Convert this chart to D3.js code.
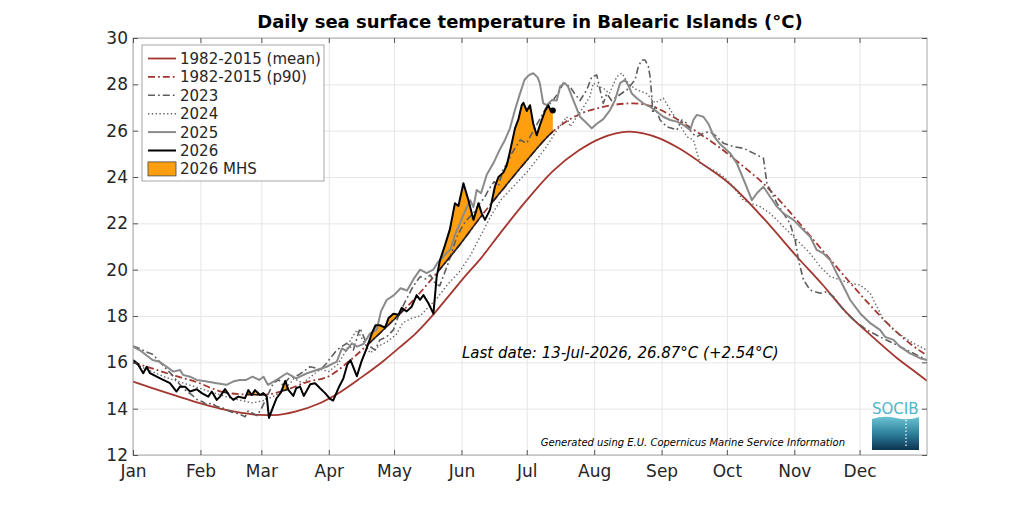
<!DOCTYPE html>
<html lang="en">
<head>
<meta charset="utf-8">
<title>Daily sea surface temperature in Balearic Islands</title>
<script src="https://cdn.jsdelivr.net/npm/d3@7"></script>
<style>
  body { margin: 0; background: #fff; }
  svg text { font-family: "DejaVu Sans", sans-serif; fill: #262626; }
</style>
</head>
<body>
<div id="chart"></div>
<script>

// month labels and the day of year where each month starts
var months = ["Jan","Feb","Mar","Apr","May","Jun","Jul","Aug","Sep","Oct","Nov","Dec"];
var monthDays = [0,31,59,90,120,151,181,212,243,273,304,334];
var yTicks = [12,14,16,18,20,22,24,26,28,30];

// [day of year, temperature]
var mean8215 = [[0,15.17],[10,14.85],[20,14.55],[31,14.23],[40,14.0],[50,13.82],[58,13.73],[65,13.72],[75,13.88],[85,14.2],[95,14.7],[105,15.35],[115,16.05],[123,16.68],[130,17.25],[137,17.95],[145,18.85],[153,19.75],[160,20.5],[169,21.6],[181,23.0],[193,24.25],[205,25.15],[215,25.67],[228,25.96],[242,25.67],[251,25.24],[262,24.55],[274,23.73],[290,22.2],[305,20.58],[317,19.35],[328,18.15],[340,17.1],[351,16.2],[358,15.7],[365,15.2]];

var p90_8215 = [[0,16.0],[10,15.7],[20,15.4],[30,15.12],[40,14.75],[50,14.62],[60,14.6],[70,14.8],[80,15.15],[90,15.4],[100,16.1],[110,16.95],[120,17.85],[130,18.8],[140,19.9],[150,21.05],[160,22.3],[169,23.35],[180,24.6],[193,25.96],[205,26.7],[215,27.0],[230,27.18],[240,27.0],[250,26.5],[260,25.9],[270,25.25],[280,24.5],[290,23.7],[300,22.7],[310,21.6],[320,20.5],[330,19.4],[340,18.35],[350,17.4],[358,16.75],[365,16.3]];

var sst2023 = [[0,16.7],[3,16.6],[6,16.45],[9,16.35],[12,16.05],[15,15.75],[18,15.45],[21,15.1],[24.7,14.74],[27,14.6],[29.3,14.4],[32,14.3],[34,14.16],[36,14.25],[38.5,14.09],[41,14.05],[43,13.94],[45.5,13.85],[47.7,13.8],[50,13.72],[51.5,13.65],[53,13.9],[55,13.8],[57,13.7],[59,14.0],[61,14.4],[63,14.8],[64.5,15.1],[67,15.25],[69,15.0],[71.5,15.3],[73.7,15.38],[76,15.45],[78.3,15.6],[81.4,15.81],[84,15.75],[86,15.67],[89,15.96],[90.6,16.17],[93.7,16.53],[96,16.68],[98.2,16.82],[101.3,16.53],[103.6,17.25],[104.4,17.47],[106.5,17.0],[109,16.68],[111.3,16.53],[113.5,16.97],[116.6,17.1],[119.7,17.4],[122,18.0],[125,18.6],[128.9,19.3],[132,19.7],[134.5,19.6],[136.6,19.77],[139,19.4],[141,19.3],[143,19.8],[145,20.3],[147,20.9],[148.8,21.4],[151,21.8],[153,22.1],[155,22.3],[157,22.5],[159.5,22.87],[161.5,23.1],[163.4,23.44],[166,23.8],[168,23.6],[170,24.3],[172,24.6],[174,25.0],[176,25.3],[178,25.6],[181,25.46],[184,26.0],[187,26.5],[190,27.0],[193,27.3],[196,27.7],[197.8,28.05],[200.9,27.9],[203,27.6],[205.5,27.3],[208.6,27.76],[210.9,28.33],[213.2,28.4],[214.7,27.76],[216.2,27.18],[217.8,27.6],[220,27.3],[223,27.5],[227,27.76],[230.8,28.2],[232.3,28.77],[233.9,29.05],[235.4,29.05],[236.9,28.77],[237.7,28.33],[238.5,27.47],[238.9,26.75],[240,27.03],[242.3,26.46],[245.4,26.17],[247.7,26.1],[250,26.03],[252.3,26.46],[254.6,26.32],[256.9,25.89],[259.2,25.74],[262.2,25.89],[265.3,25.96],[268.4,25.74],[271.4,25.46],[276,25.31],[280.6,25.24],[285.2,25.03],[289.8,24.81],[291.4,23.73],[292.9,23.44],[296,22.87],[299,22.43],[302,22.0],[304.4,21.28],[305.9,20.42],[308.2,19.56],[311.3,19.12],[315.9,18.98],[318.9,19.05],[322,18.84],[326.6,18.26],[331.2,17.83],[337.3,17.4],[343.4,17.1],[349.6,16.82],[355.7,16.53],[361.8,16.25],[365,16.1]];

var sst2024 = [[0,16.0],[5,15.75],[10,15.55],[15,15.35],[20,15.2],[25,15.05],[30,14.9],[35,14.75],[40,14.6],[45,14.45],[50,14.35],[55,14.25],[60,14.35],[65,14.55],[70,14.85],[74,15.3],[78,15.1],[82,15.4],[86,15.7],[90,15.6],[94,15.9],[98,16.5],[100,16.97],[103,17.4],[106,16.9],[109,16.4],[113,16.7],[117,16.9],[121,17.2],[124,17.7],[128,17.9],[132,18.0],[136,18.4],[140,18.8],[145,19.4],[150,19.9],[155,20.6],[160,21.5],[165,22.4],[169,23.0],[175,23.6],[181,24.2],[186,24.8],[190,25.3],[194,25.9],[197,26.3],[199.4,26.6],[201,26.17],[204,26.6],[207,27.0],[210,27.47],[211.6,28.05],[214,27.9],[216.2,27.83],[219,27.6],[222.4,28.33],[224.7,28.48],[228,28.0],[231.6,27.76],[236.2,27.6],[240,27.2],[243.8,27.4],[247,26.9],[250,26.46],[254.6,25.74],[257.6,25.6],[260.7,24.59],[266.8,24.3],[271.4,24.02],[276,23.58],[280.6,23.0],[283.7,22.87],[288.3,22.72],[292.9,22.43],[297.5,22.0],[302,21.57],[306.7,21.14],[311.3,20.7],[315.9,20.13],[320.5,19.7],[325.1,19.56],[329.7,19.41],[334.3,19.34],[338.9,18.98],[342,18.4],[345,17.83],[349.6,17.4],[354.2,17.1],[358.8,16.82],[365,16.53]];

var sst2025 = [[0,16.68],[3,16.53],[6,16.32],[9,16.1],[12,16.03],[15.5,15.81],[18.5,15.6],[21.6,15.67],[23,15.46],[26.2,15.38],[29.3,15.24],[34,15.17],[38.5,15.1],[43,15.03],[46,15.17],[49,15.24],[52,15.24],[55,15.38],[58,15.24],[60,15.38],[62,15.03],[66,15.24],[70.7,15.53],[75,15.31],[80,15.53],[84.5,15.67],[89,15.81],[93.7,16.03],[96,16.6],[98,16.5],[100.6,16.82],[103,16.68],[106,16.8],[109,17.25],[112,17.4],[114,18.2],[116.6,18.69],[120,18.9],[123,19.2],[126,19.1],[129,19.6],[132,20.0],[135,19.85],[138,20.0],[140,20.3],[143,20.6],[146,20.9],[148,21.5],[150.3,22.0],[152,22.4],[155,23.0],[156.5,22.7],[158,23.44],[160,23.3],[162.6,24.1],[165.7,24.6],[168.7,25.2],[171,25.6],[173.3,26.1],[175.6,26.9],[177.9,27.6],[180,28.2],[182,28.4],[184,28.48],[186,28.3],[187,28.05],[188.6,27.18],[190.2,27.1],[192.5,27.32],[194.8,27.3],[196.3,27.9],[198.5,28.05],[200,27.9],[202.4,27.32],[205.5,26.6],[208.6,26.32],[210.9,26.1],[213.2,26.3],[216.2,26.5],[219.3,26.89],[221.6,27.32],[223.9,28.05],[226.2,28.2],[228,27.9],[229.3,27.6],[231.6,27.4],[234.6,27.18],[237.7,27.03],[240.8,26.82],[243.8,26.6],[246.9,26.46],[250,26.39],[253,26.25],[256.1,26.03],[257.6,26.46],[259.2,26.68],[262.2,26.6],[264.5,26.3],[266.8,25.8],[269.5,25.46],[274.5,25.03],[277.6,24.59],[281.4,23.73],[284.5,23.0],[286.8,23.3],[289.8,23.58],[292.9,23.15],[296,22.72],[299,22.43],[303.6,22.15],[308.2,21.71],[311.3,21.42],[314.3,20.85],[317.4,20.7],[320.5,20.42],[323.5,19.84],[326.6,19.27],[329.7,18.69],[334.3,18.11],[338.9,17.69],[343.4,17.4],[345.7,17.1],[349.6,16.97],[352.6,16.68],[357.2,16.39],[361.8,16.18],[365,16.1]];

var sst2026 = [[0,16.1],[2,15.96],[4.7,15.53],[6.3,15.81],[7.8,15.53],[10.9,15.38],[13.9,15.24],[17,15.1],[20,14.74],[21.6,14.95],[23.9,14.95],[26.2,14.74],[29.3,14.84],[31.6,14.67],[34.6,14.52],[36.2,14.74],[38.5,14.38],[40,14.52],[42.3,14.85],[44.6,14.52],[46.1,14.38],[48.4,14.52],[51.5,14.45],[53,14.8],[54.6,14.59],[56.1,14.8],[58.4,14.59],[59.9,14.67],[61.5,14.52],[62.5,13.6],[64.5,14.1],[66,14.45],[68,14.7],[70,15.2],[71.5,14.8],[73.7,14.55],[75,14.88],[76.8,14.95],[78.5,14.55],[81.5,15.05],[83.7,15.1],[86,14.88],[88.3,14.67],[90.6,14.42],[92,14.35],[94.5,14.9],[96.7,15.3],[98.5,15.9],[100,16.1],[102.9,15.4],[105,16.03],[107.4,16.6],[110,17.3],[111.5,17.6],[113.5,17.6],[115.9,17.5],[117.4,17.9],[119.7,18.1],[122,18.05],[123.5,18.35],[125.8,18.2],[128.1,18.4],[130.4,18.9],[132,18.7],[133.5,18.9],[135.8,18.55],[138.1,18.1],[139.6,19.7],[141.1,20.4],[143.4,21.05],[145.7,21.75],[148,22.87],[149.6,22.75],[151.9,23.73],[154.2,23.0],[156.5,22.15],[158.8,22.87],[160.3,22.43],[161.8,22.15],[164.1,22.58],[166.4,23.6],[168,24.0],[170.3,24.2],[171.8,24.5],[173.3,25.1],[175.6,26.1],[177.2,26.5],[178.7,27.1],[179.5,27.2],[181,26.85],[182.5,27.1],[184,26.3],[185.6,25.8],[187.1,26.25],[189.4,26.85],[190.9,27.1],[192,26.85],[193,26.87]];

var legendNames = ["1982-2015 (mean)","1982-2015 (p90)","2023","2024","2025","2026","2026 MHS"];

var width = 1024, height = 512;
var plotLeft = 133, plotRight = 927, plotTop = 38, plotBottom = 455;

var svg = d3.select( "#chart" ).append( "svg" )
    .attr( "width" , width )
    .attr( "height" , height );

var x = d3.scaleLinear().domain( [0,365] ).range( [plotLeft,plotRight] );
var y = d3.scaleLinear().domain( [12,30] ).range( [plotBottom,plotTop] );

// line styles, one per legend entry
var styles = [
    { color : "#a3362f" , w : 1.8 , dash : null },
    { color : "#a3362f" , w : 1.8 , dash : "7,3,1.8,3" },
    { color : "#5e5e5e" , w : 1.6 , dash : "7,3,1.8,3" },
    { color : "#666666" , w : 1.4 , dash : "1.4,2.4" },
    { color : "#8a8a8a" , w : 2.0 , dash : null },
    { color : "#000000" , w : 2.0 , dash : null }
];
var mhsColor = "#ff9f10";

// grid
svg.append( "g" )
    .attr( "transform" , "translate(0," + plotBottom + ")" )
    .call( d3.axisBottom( x ).tickValues( monthDays ).tickSize( -(plotBottom-plotTop) ).tickFormat( "" ) )
    .call( g => g.select( ".domain" ).remove() )
    .selectAll( "line" ).attr( "stroke" , "#e6e6e6" );
svg.append( "g" )
    .attr( "transform" , "translate(" + plotLeft + ",0)" )
    .call( d3.axisLeft( y ).tickValues( yTicks ).tickSize( -(plotRight-plotLeft) ).tickFormat( "" ) )
    .call( g => g.select( ".domain" ).remove() )
    .selectAll( "line" ).attr( "stroke" , "#e6e6e6" );

var line = d3.line().x( d => x( d[0] ) ).y( d => y( d[1] ) );
var smooth = d3.line().x( d => x( d[0] ) ).y( d => y( d[1] ) ).curve( d3.curveMonotoneX );

// MHS: area under 2026 kept only where it lies above p90
var defs = svg.append( "defs" );
defs.append( "clipPath" ).attr( "id" , "abovep90" )
    .append( "path" )
    .attr( "d" , d3.area().x( d => x( d[0] ) ).y0( plotTop ).y1( d => y( d[1] ) ).curve( d3.curveMonotoneX )( p90_8215 ) );
defs.append( "clipPath" ).attr( "id" , "below2026" )
    .append( "path" )
    .attr( "d" , d3.area().x( d => x( d[0] ) ).y0( plotBottom ).y1( d => y( d[1] ) )( sst2026 ) );
defs.append( "clipPath" ).attr( "id" , "plotarea" )
    .append( "rect" ).attr( "x" , plotLeft ).attr( "y" , plotTop ).attr( "width" , plotRight-plotLeft ).attr( "height" , plotBottom-plotTop );

var plot = svg.append( "g" ).attr( "clip-path" , "url(#plotarea)" );

plot.append( "path" )
    .attr( "d" , d3.area().x( d => x( d[0] ) ).y0( plotBottom ).y1( d => y( d[1] ) )( sst2026 ) )
    .attr( "fill" , mhsColor )
    .attr( "clip-path" , "url(#abovep90)" );

var series = [ mean8215 , p90_8215 , sst2023 , sst2024 , sst2025 ];
series.forEach( function( s , i ) {
    plot.append( "path" )
        .attr( "d" , ( i < 2 ? smooth : line )( s ) )
        .attr( "fill" , "none" )
        .attr( "stroke" , styles[i].color )
        .attr( "stroke-width" , styles[i].w )
        .attr( "stroke-dasharray" , styles[i].dash )
        .attr( "stroke-linejoin" , "round" );
} );

// dark edge of the MHS patches along p90
plot.append( "g" ).attr( "clip-path" , "url(#below2026)" )
    .append( "path" )
    .attr( "d" , smooth( p90_8215 ) )
    .attr( "fill" , "none" )
    .attr( "stroke" , "#222" )
    .attr( "stroke-width" , 1.6 );

plot.append( "path" )
    .attr( "d" , line( sst2026 ) )
    .attr( "fill" , "none" )
    .attr( "stroke" , styles[5].color )
    .attr( "stroke-width" , styles[5].w )
    .attr( "stroke-linejoin" , "round" );

var last = sst2026[ sst2026.length - 1 ];
plot.append( "circle" )
    .attr( "cx" , x( last[0] ) ).attr( "cy" , y( last[1] ) ).attr( "r" , 3 )
    .attr( "fill" , "#000" );

// axes box and ticks (MATLAB style, ticks pointing inwards on all four sides)
svg.append( "rect" )
    .attr( "x" , plotLeft ).attr( "y" , plotTop )
    .attr( "width" , plotRight-plotLeft ).attr( "height" , plotBottom-plotTop )
    .attr( "fill" , "none" ).attr( "stroke" , "#a6a6a6" );

var xAxis = svg.append( "g" )
    .attr( "transform" , "translate(0," + plotBottom + ")" )
    .call( d3.axisBottom( x ).tickValues( monthDays ).tickSize( -5 ).tickPadding( 10 ).tickFormat( ( d , i ) => months[i] ) );
var yAxis = svg.append( "g" )
    .attr( "transform" , "translate(" + plotLeft + ",0)" )
    .call( d3.axisLeft( y ).tickValues( yTicks ).tickSize( -5 ).tickPadding( 5 ) );
var topAxis = svg.append( "g" )
    .attr( "transform" , "translate(0," + plotTop + ")" )
    .call( d3.axisTop( x ).tickValues( monthDays ).tickSize( -5 ).tickFormat( "" ) );
var rightAxis = svg.append( "g" )
    .attr( "transform" , "translate(" + plotRight + ",0)" )
    .call( d3.axisRight( y ).tickValues( yTicks ).tickSize( -5 ).tickFormat( "" ) );

[ xAxis , yAxis , topAxis , rightAxis ].forEach( function( g ) {
    g.select( ".domain" ).remove();
    g.selectAll( ".tick line" ).attr( "stroke" , "#555" );
    g.selectAll( "text" ).attr( "font-size" , 17 ).style( "fill" , "#262626" );
} );

// title
svg.append( "text" )
    .attr( "x" , 530 ).attr( "y" , 28 )
    .attr( "text-anchor" , "middle" )
    .attr( "font-size" , 18 ).attr( "font-weight" , "bold" )
    .style( "fill" , "#000" )
    .text( "Daily sea surface temperature in Balearic Islands (\u00B0C)" );

// legend
var legend = svg.append( "g" ).attr( "transform" , "translate(142,45)" );
legend.append( "rect" )
    .attr( "width" , 182 ).attr( "height" , 136 )
    .attr( "fill" , "#fff" ).attr( "stroke" , "#a6a6a6" );
legendNames.forEach( function( name , i ) {
    var cy = 13.5 + i * 18.4;
    if( i < 6 )
    {
        legend.append( "line" )
            .attr( "x1" , 6 ).attr( "x2" , 34 ).attr( "y1" , cy ).attr( "y2" , cy )
            .attr( "stroke" , styles[i].color )
            .attr( "stroke-width" , styles[i].w )
            .attr( "stroke-dasharray" , styles[i].dash );
    }
    else
    {
        legend.append( "rect" )
            .attr( "x" , 6 ).attr( "y" , cy - 7 ).attr( "width" , 28 ).attr( "height" , 14 )
            .attr( "fill" , mhsColor ).attr( "stroke" , "#444" ).attr( "stroke-width" , 0.8 );
    }
    legend.append( "text" )
        .attr( "x" , 38 ).attr( "y" , cy + 5.5 )
        .attr( "font-size" , 15 )
        .text( name );
} );

// annotations
svg.append( "text" )
    .attr( "x" , 462 ).attr( "y" , 358 )
    .attr( "font-size" , 15 ).attr( "font-style" , "italic" )
    .style( "fill" , "#000" )
    .text( "Last date: 13-Jul-2026, 26.87\u00B0C (+2.54\u00B0C)" );
svg.append( "text" )
    .attr( "x" , 845 ).attr( "y" , 446 )
    .attr( "text-anchor" , "end" )
    .attr( "font-size" , 10 ).attr( "font-style" , "italic" )
    .style( "fill" , "#000" )
    .text( "Generated using E.U. Copernicus Marine Service Information" );

// SOCIB logo
var grad = defs.append( "linearGradient" ).attr( "id" , "socibgrad" )
    .attr( "x1" , 0 ).attr( "x2" , 0 ).attr( "y1" , 0 ).attr( "y2" , 1 );
grad.append( "stop" ).attr( "offset" , "0%" ).attr( "stop-color" , "#6cc4d4" );
grad.append( "stop" ).attr( "offset" , "55%" ).attr( "stop-color" , "#2a7a97" );
grad.append( "stop" ).attr( "offset" , "100%" ).attr( "stop-color" , "#0c3350" );
svg.append( "text" )
    .attr( "x" , 872 ).attr( "y" , 414 )
    .attr( "font-size" , 15 )
    .style( "fill" , "#4cb6cb" )
    .text( "SOCIB" );
svg.append( "path" )
    .attr( "d" , "M872,419 Q884,415 896,418 T919,417 L919,450 L872,450 Z" )
    .attr( "fill" , "url(#socibgrad)" );
svg.append( "line" )
    .attr( "x1" , 906 ).attr( "x2" , 906 ).attr( "y1" , 420 ).attr( "y2" , 447 )
    .attr( "stroke" , "#fff" ).attr( "stroke-width" , 1.2 ).attr( "stroke-dasharray" , "1.5,2" );

</script>
</body>
</html>
